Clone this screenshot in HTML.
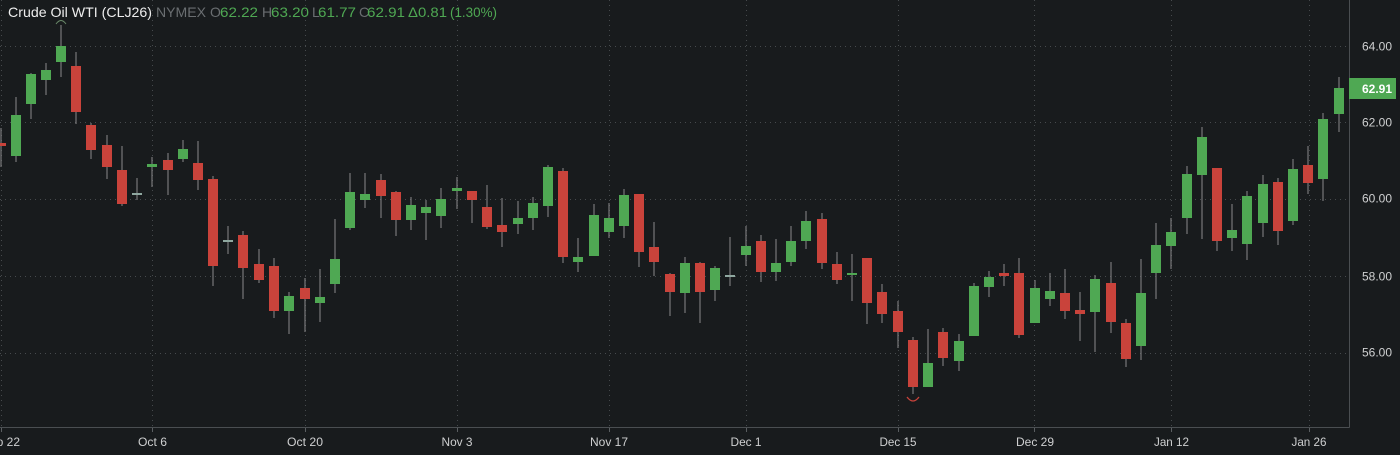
<!DOCTYPE html>
<html><head><meta charset="utf-8"><style>
html,body{margin:0;padding:0;background:#181b1d;}
svg{display:block;}
.w{stroke:#8a8a8a;stroke-width:1;}
.g{fill:#4fa853;}
.r{fill:#c9433b;}
.d{fill:#8fa8a0;}
.grid{stroke:#464a4d;stroke-width:1;stroke-dasharray:1,4;}
.ax{font-family:"Liberation Sans",sans-serif;font-size:12px;fill:#cfd0d1;}
</style></head><body>
<svg width="1400" height="455" viewBox="0 0 1400 455" xmlns="http://www.w3.org/2000/svg">
<rect x="0" y="0" width="1400" height="455" fill="#181b1d"/>
<!-- horizontal grid -->
<g class="grid">
<line x1="0" x2="1349" y1="46.5" y2="46.5"/>
<line x1="0" x2="1349" y1="122.5" y2="122.5"/>
<line x1="0" x2="1349" y1="199.5" y2="199.5"/>
<line x1="0" x2="1349" y1="276.5" y2="276.5"/>
<line x1="0" x2="1349" y1="353.5" y2="353.5"/>
<line x1="1.5" x2="1.5" y1="0" y2="427"/>
<line x1="152.5" x2="152.5" y1="0" y2="427"/>
<line x1="305.5" x2="305.5" y1="0" y2="427"/>
<line x1="457.5" x2="457.5" y1="0" y2="427"/>
<line x1="609.5" x2="609.5" y1="0" y2="427"/>
<line x1="746.5" x2="746.5" y1="0" y2="427"/>
<line x1="898.5" x2="898.5" y1="0" y2="427"/>
<line x1="1034.5" x2="1034.5" y1="0" y2="427"/>
<line x1="1171.5" x2="1171.5" y1="0" y2="427"/>
<line x1="1309.5" x2="1309.5" y1="0" y2="427"/>
</g>
<!-- axes -->
<line x1="0" x2="1349.5" y1="427.5" y2="427.5" stroke="#4a4e51" stroke-width="1"/>
<line x1="1349.5" x2="1349.5" y1="0" y2="427.5" stroke="#4a4e51" stroke-width="1"/>
<g stroke="#5a5e61" stroke-width="1">
<line x1="1.5" x2="1.5" y1="428" y2="432"/>
<line x1="152.5" x2="152.5" y1="428" y2="432"/>
<line x1="305.5" x2="305.5" y1="428" y2="432"/>
<line x1="457.5" x2="457.5" y1="428" y2="432"/>
<line x1="609.5" x2="609.5" y1="428" y2="432"/>
<line x1="746.5" x2="746.5" y1="428" y2="432"/>
<line x1="898.5" x2="898.5" y1="428" y2="432"/>
<line x1="1034.5" x2="1034.5" y1="428" y2="432"/>
<line x1="1171.5" x2="1171.5" y1="428" y2="432"/>
<line x1="1309.5" x2="1309.5" y1="428" y2="432"/>
</g>
<!-- candles -->
<g>
<line class="w" x1="1" x2="1" y1="128" y2="167"/><rect class="r" x="-4" y="143" width="10" height="3"/>
<line class="w" x1="16" x2="16" y1="97" y2="162"/><rect class="g" x="11" y="115" width="10" height="41"/>
<line class="w" x1="31" x2="31" y1="73" y2="119"/><rect class="g" x="26" y="74" width="10" height="30"/>
<line class="w" x1="46" x2="46" y1="63" y2="95"/><rect class="g" x="41" y="70" width="10" height="10"/>
<line class="w" x1="61" x2="61" y1="25" y2="77"/><rect class="g" x="56" y="46" width="10" height="16"/>
<line class="w" x1="76" x2="76" y1="52" y2="124"/><rect class="r" x="71" y="66" width="10" height="46"/>
<line class="w" x1="91" x2="91" y1="123" y2="159"/><rect class="r" x="86" y="125" width="10" height="25"/>
<line class="w" x1="107" x2="107" y1="135" y2="179"/><rect class="r" x="102" y="145" width="10" height="22"/>
<line class="w" x1="122" x2="122" y1="146" y2="206"/><rect class="r" x="117" y="170" width="10" height="34"/>
<line class="w" x1="137" x2="137" y1="178" y2="200"/><rect class="d" x="132" y="193" width="10" height="2"/>
<line class="w" x1="152" x2="152" y1="157" y2="187"/><rect class="g" x="147" y="164" width="10" height="3"/>
<line class="w" x1="168" x2="168" y1="153" y2="195"/><rect class="r" x="163" y="160" width="10" height="10"/>
<line class="w" x1="183" x2="183" y1="140" y2="162"/><rect class="g" x="178" y="149" width="10" height="10"/>
<line class="w" x1="198" x2="198" y1="141" y2="190"/><rect class="r" x="193" y="163" width="10" height="17"/>
<line class="w" x1="213" x2="213" y1="176" y2="286"/><rect class="r" x="208" y="179" width="10" height="87"/>
<line class="w" x1="228" x2="228" y1="226" y2="254"/><rect class="d" x="223" y="240" width="10" height="2"/>
<line class="w" x1="243" x2="243" y1="231" y2="299"/><rect class="r" x="238" y="235" width="10" height="33"/>
<line class="w" x1="259" x2="259" y1="249" y2="283"/><rect class="r" x="254" y="264" width="10" height="16"/>
<line class="w" x1="274" x2="274" y1="258" y2="318"/><rect class="r" x="269" y="266" width="10" height="45"/>
<line class="w" x1="289" x2="289" y1="292" y2="334"/><rect class="g" x="284" y="296" width="10" height="15"/>
<line class="w" x1="305" x2="305" y1="278" y2="332"/><rect class="r" x="300" y="288" width="10" height="11"/>
<line class="w" x1="320" x2="320" y1="269" y2="322"/><rect class="g" x="315" y="297" width="10" height="6"/>
<line class="w" x1="335" x2="335" y1="219" y2="293"/><rect class="g" x="330" y="259" width="10" height="25"/>
<line class="w" x1="350" x2="350" y1="173" y2="230"/><rect class="g" x="345" y="192" width="10" height="36"/>
<line class="w" x1="365" x2="365" y1="173" y2="208"/><rect class="g" x="360" y="194" width="10" height="6"/>
<line class="w" x1="381" x2="381" y1="174" y2="218"/><rect class="r" x="376" y="180" width="10" height="16"/>
<line class="w" x1="396" x2="396" y1="191" y2="236"/><rect class="r" x="391" y="192" width="10" height="28"/>
<line class="w" x1="411" x2="411" y1="197" y2="230"/><rect class="g" x="406" y="205" width="10" height="15"/>
<line class="w" x1="426" x2="426" y1="200" y2="240"/><rect class="g" x="421" y="207" width="10" height="6"/>
<line class="w" x1="441" x2="441" y1="188" y2="228"/><rect class="g" x="436" y="199" width="10" height="17"/>
<line class="w" x1="457" x2="457" y1="177" y2="209"/><rect class="g" x="452" y="188" width="10" height="3"/>
<line class="w" x1="472" x2="472" y1="191" y2="223"/><rect class="r" x="467" y="191" width="10" height="9"/>
<line class="w" x1="487" x2="487" y1="185" y2="229"/><rect class="r" x="482" y="207" width="10" height="20"/>
<line class="w" x1="502" x2="502" y1="198" y2="247"/><rect class="r" x="497" y="225" width="10" height="7"/>
<line class="w" x1="518" x2="518" y1="201" y2="234"/><rect class="g" x="513" y="218" width="10" height="6"/>
<line class="w" x1="533" x2="533" y1="197" y2="230"/><rect class="g" x="528" y="203" width="10" height="15"/>
<line class="w" x1="548" x2="548" y1="165" y2="217"/><rect class="g" x="543" y="167" width="10" height="39"/>
<line class="w" x1="563" x2="563" y1="168" y2="263"/><rect class="r" x="558" y="171" width="10" height="86"/>
<line class="w" x1="578" x2="578" y1="238" y2="272"/><rect class="g" x="573" y="257" width="10" height="5"/>
<line class="w" x1="594" x2="594" y1="204" y2="256"/><rect class="g" x="589" y="215" width="10" height="41"/>
<line class="w" x1="609" x2="609" y1="203" y2="238"/><rect class="g" x="604" y="218" width="10" height="14"/>
<line class="w" x1="624" x2="624" y1="189" y2="238"/><rect class="g" x="619" y="195" width="10" height="31"/>
<line class="w" x1="639" x2="639" y1="194" y2="267"/><rect class="r" x="634" y="194" width="10" height="58"/>
<line class="w" x1="654" x2="654" y1="222" y2="276"/><rect class="r" x="649" y="247" width="10" height="15"/>
<line class="w" x1="670" x2="670" y1="273" y2="316"/><rect class="r" x="665" y="274" width="10" height="18"/>
<line class="w" x1="685" x2="685" y1="257" y2="313"/><rect class="g" x="680" y="263" width="10" height="30"/>
<line class="w" x1="700" x2="700" y1="262" y2="323"/><rect class="r" x="695" y="263" width="10" height="29"/>
<line class="w" x1="715" x2="715" y1="266" y2="301"/><rect class="g" x="710" y="268" width="10" height="22"/>
<line class="w" x1="730" x2="730" y1="237" y2="286"/><rect class="d" x="725" y="275" width="10" height="2"/>
<line class="w" x1="746" x2="746" y1="226" y2="266"/><rect class="g" x="741" y="246" width="10" height="9"/>
<line class="w" x1="761" x2="761" y1="235" y2="282"/><rect class="r" x="756" y="241" width="10" height="31"/>
<line class="w" x1="776" x2="776" y1="239" y2="281"/><rect class="g" x="771" y="263" width="10" height="9"/>
<line class="w" x1="791" x2="791" y1="226" y2="266"/><rect class="g" x="786" y="241" width="10" height="21"/>
<line class="w" x1="806" x2="806" y1="211" y2="249"/><rect class="g" x="801" y="221" width="10" height="20"/>
<line class="w" x1="822" x2="822" y1="213" y2="269"/><rect class="r" x="817" y="219" width="10" height="44"/>
<line class="w" x1="837" x2="837" y1="252" y2="284"/><rect class="r" x="832" y="264" width="10" height="16"/>
<line class="w" x1="852" x2="852" y1="254" y2="301"/><rect class="g" x="847" y="273" width="10" height="2"/>
<line class="w" x1="867" x2="867" y1="258" y2="324"/><rect class="r" x="862" y="258" width="10" height="45"/>
<line class="w" x1="882" x2="882" y1="284" y2="323"/><rect class="r" x="877" y="292" width="10" height="22"/>
<line class="w" x1="898" x2="898" y1="301" y2="348"/><rect class="r" x="893" y="311" width="10" height="21"/>
<line class="w" x1="913" x2="913" y1="337" y2="394"/><rect class="r" x="908" y="340" width="10" height="47"/>
<line class="w" x1="928" x2="928" y1="329" y2="387"/><rect class="g" x="923" y="363" width="10" height="24"/>
<line class="w" x1="943" x2="943" y1="328" y2="366"/><rect class="r" x="938" y="332" width="10" height="26"/>
<line class="w" x1="959" x2="959" y1="334" y2="371"/><rect class="g" x="954" y="341" width="10" height="20"/>
<line class="w" x1="974" x2="974" y1="283" y2="336"/><rect class="g" x="969" y="286" width="10" height="50"/>
<line class="w" x1="989" x2="989" y1="271" y2="297"/><rect class="g" x="984" y="277" width="10" height="10"/>
<line class="w" x1="1004" x2="1004" y1="264" y2="286"/><rect class="r" x="999" y="273" width="10" height="3"/>
<line class="w" x1="1019" x2="1019" y1="258" y2="338"/><rect class="r" x="1014" y="273" width="10" height="62"/>
<line class="w" x1="1035" x2="1035" y1="280" y2="323"/><rect class="g" x="1030" y="288" width="10" height="35"/>
<line class="w" x1="1050" x2="1050" y1="273" y2="306"/><rect class="g" x="1045" y="291" width="10" height="8"/>
<line class="w" x1="1065" x2="1065" y1="269" y2="319"/><rect class="r" x="1060" y="293" width="10" height="18"/>
<line class="w" x1="1080" x2="1080" y1="292" y2="341"/><rect class="r" x="1075" y="310" width="10" height="4"/>
<line class="w" x1="1095" x2="1095" y1="275" y2="352"/><rect class="g" x="1090" y="279" width="10" height="33"/>
<line class="w" x1="1111" x2="1111" y1="262" y2="333"/><rect class="r" x="1106" y="283" width="10" height="39"/>
<line class="w" x1="1126" x2="1126" y1="319" y2="367"/><rect class="r" x="1121" y="323" width="10" height="36"/>
<line class="w" x1="1141" x2="1141" y1="259" y2="360"/><rect class="g" x="1136" y="293" width="10" height="53"/>
<line class="w" x1="1156" x2="1156" y1="223" y2="299"/><rect class="g" x="1151" y="245" width="10" height="28"/>
<line class="w" x1="1171" x2="1171" y1="218" y2="269"/><rect class="g" x="1166" y="232" width="10" height="14"/>
<line class="w" x1="1187" x2="1187" y1="166" y2="234"/><rect class="g" x="1182" y="174" width="10" height="44"/>
<line class="w" x1="1202" x2="1202" y1="127" y2="239"/><rect class="g" x="1197" y="137" width="10" height="38"/>
<line class="w" x1="1217" x2="1217" y1="168" y2="251"/><rect class="r" x="1212" y="168" width="10" height="73"/>
<line class="w" x1="1232" x2="1232" y1="204" y2="251"/><rect class="g" x="1227" y="230" width="10" height="8"/>
<line class="w" x1="1247" x2="1247" y1="191" y2="260"/><rect class="g" x="1242" y="196" width="10" height="48"/>
<line class="w" x1="1263" x2="1263" y1="175" y2="237"/><rect class="g" x="1258" y="184" width="10" height="39"/>
<line class="w" x1="1278" x2="1278" y1="178" y2="245"/><rect class="r" x="1273" y="182" width="10" height="49"/>
<line class="w" x1="1293" x2="1293" y1="159" y2="225"/><rect class="g" x="1288" y="169" width="10" height="52"/>
<line class="w" x1="1308" x2="1308" y1="146" y2="194"/><rect class="r" x="1303" y="165" width="10" height="18"/>
<line class="w" x1="1323" x2="1323" y1="113" y2="201"/><rect class="g" x="1318" y="119" width="10" height="60"/>
<line class="w" x1="1339" x2="1339" y1="77" y2="132"/><rect class="g" x="1334" y="88" width="10" height="26"/>
</g>
<!-- markers -->
<path d="M907,397 Q913,405 919,397" fill="none" stroke="#c9433b" stroke-width="1.3"/>
<path d="M56,24 Q61,17 66,24" fill="none" stroke="#6a8a6a" stroke-width="1"/>
<!-- y axis labels -->
<g class="ax">
<text x="1362" y="50.5" textLength="30" lengthAdjust="spacingAndGlyphs">64.00</text>
<text x="1362" y="126.5" textLength="30" lengthAdjust="spacingAndGlyphs">62.00</text>
<text x="1362" y="202.5" textLength="30" lengthAdjust="spacingAndGlyphs">60.00</text>
<text x="1362" y="280.5" textLength="30" lengthAdjust="spacingAndGlyphs">58.00</text>
<text x="1362" y="356.5" textLength="30" lengthAdjust="spacingAndGlyphs">56.00</text>
</g>
<rect x="1349" y="78" width="47" height="21" fill="#4fa853"/>
<text x="1362" y="93" font-family="Liberation Sans, sans-serif" font-size="12" font-weight="bold" fill="#ffffff" textLength="30" lengthAdjust="spacingAndGlyphs">62.91</text>
<!-- x axis labels -->
<g class="ax" text-anchor="middle">
<text x="1" y="446">Sep 22</text>
<text x="152.5" y="446" textLength="29" lengthAdjust="spacingAndGlyphs">Oct 6</text>
<text x="305" y="446" textLength="36" lengthAdjust="spacingAndGlyphs">Oct 20</text>
<text x="457" y="446" textLength="31" lengthAdjust="spacingAndGlyphs">Nov 3</text>
<text x="609" y="446" textLength="38" lengthAdjust="spacingAndGlyphs">Nov 17</text>
<text x="746" y="446" textLength="31" lengthAdjust="spacingAndGlyphs">Dec 1</text>
<text x="898" y="446" textLength="37" lengthAdjust="spacingAndGlyphs">Dec 15</text>
<text x="1035" y="446" textLength="38" lengthAdjust="spacingAndGlyphs">Dec 29</text>
<text x="1171.5" y="446" textLength="35" lengthAdjust="spacingAndGlyphs">Jan 12</text>
<text x="1309" y="446" textLength="35" lengthAdjust="spacingAndGlyphs">Jan 26</text>
</g>
<!-- header -->
<g font-family="Liberation Sans, sans-serif" font-size="14">
<text x="8" y="17" fill="#eeeeee" textLength="144" lengthAdjust="spacingAndGlyphs">Crude Oil WTI (CLJ26)</text>
<text x="156" y="17" fill="#6a6e71" textLength="50" lengthAdjust="spacingAndGlyphs">NYMEX</text>
<text x="210" y="17" fill="#6a6e71">O</text>
<text x="220" y="17" fill="#4fa853" textLength="38" lengthAdjust="spacingAndGlyphs">62.22</text>
<text x="262" y="17" fill="#6a6e71">H</text>
<text x="271" y="17" fill="#4fa853" textLength="38" lengthAdjust="spacingAndGlyphs">63.20</text>
<text x="312" y="17" fill="#6a6e71">L</text>
<text x="318" y="17" fill="#4fa853" textLength="38" lengthAdjust="spacingAndGlyphs">61.77</text>
<text x="359" y="17" fill="#6a6e71">C</text>
<text x="367" y="17" fill="#4fa853" textLength="38" lengthAdjust="spacingAndGlyphs">62.91</text>
<text x="408" y="17" fill="#4fa853" textLength="39" lengthAdjust="spacingAndGlyphs">Δ0.81</text>
<text x="450" y="17" fill="#4fa853" textLength="47" lengthAdjust="spacingAndGlyphs">(1.30%)</text>
</g>
</svg>
</body></html>
